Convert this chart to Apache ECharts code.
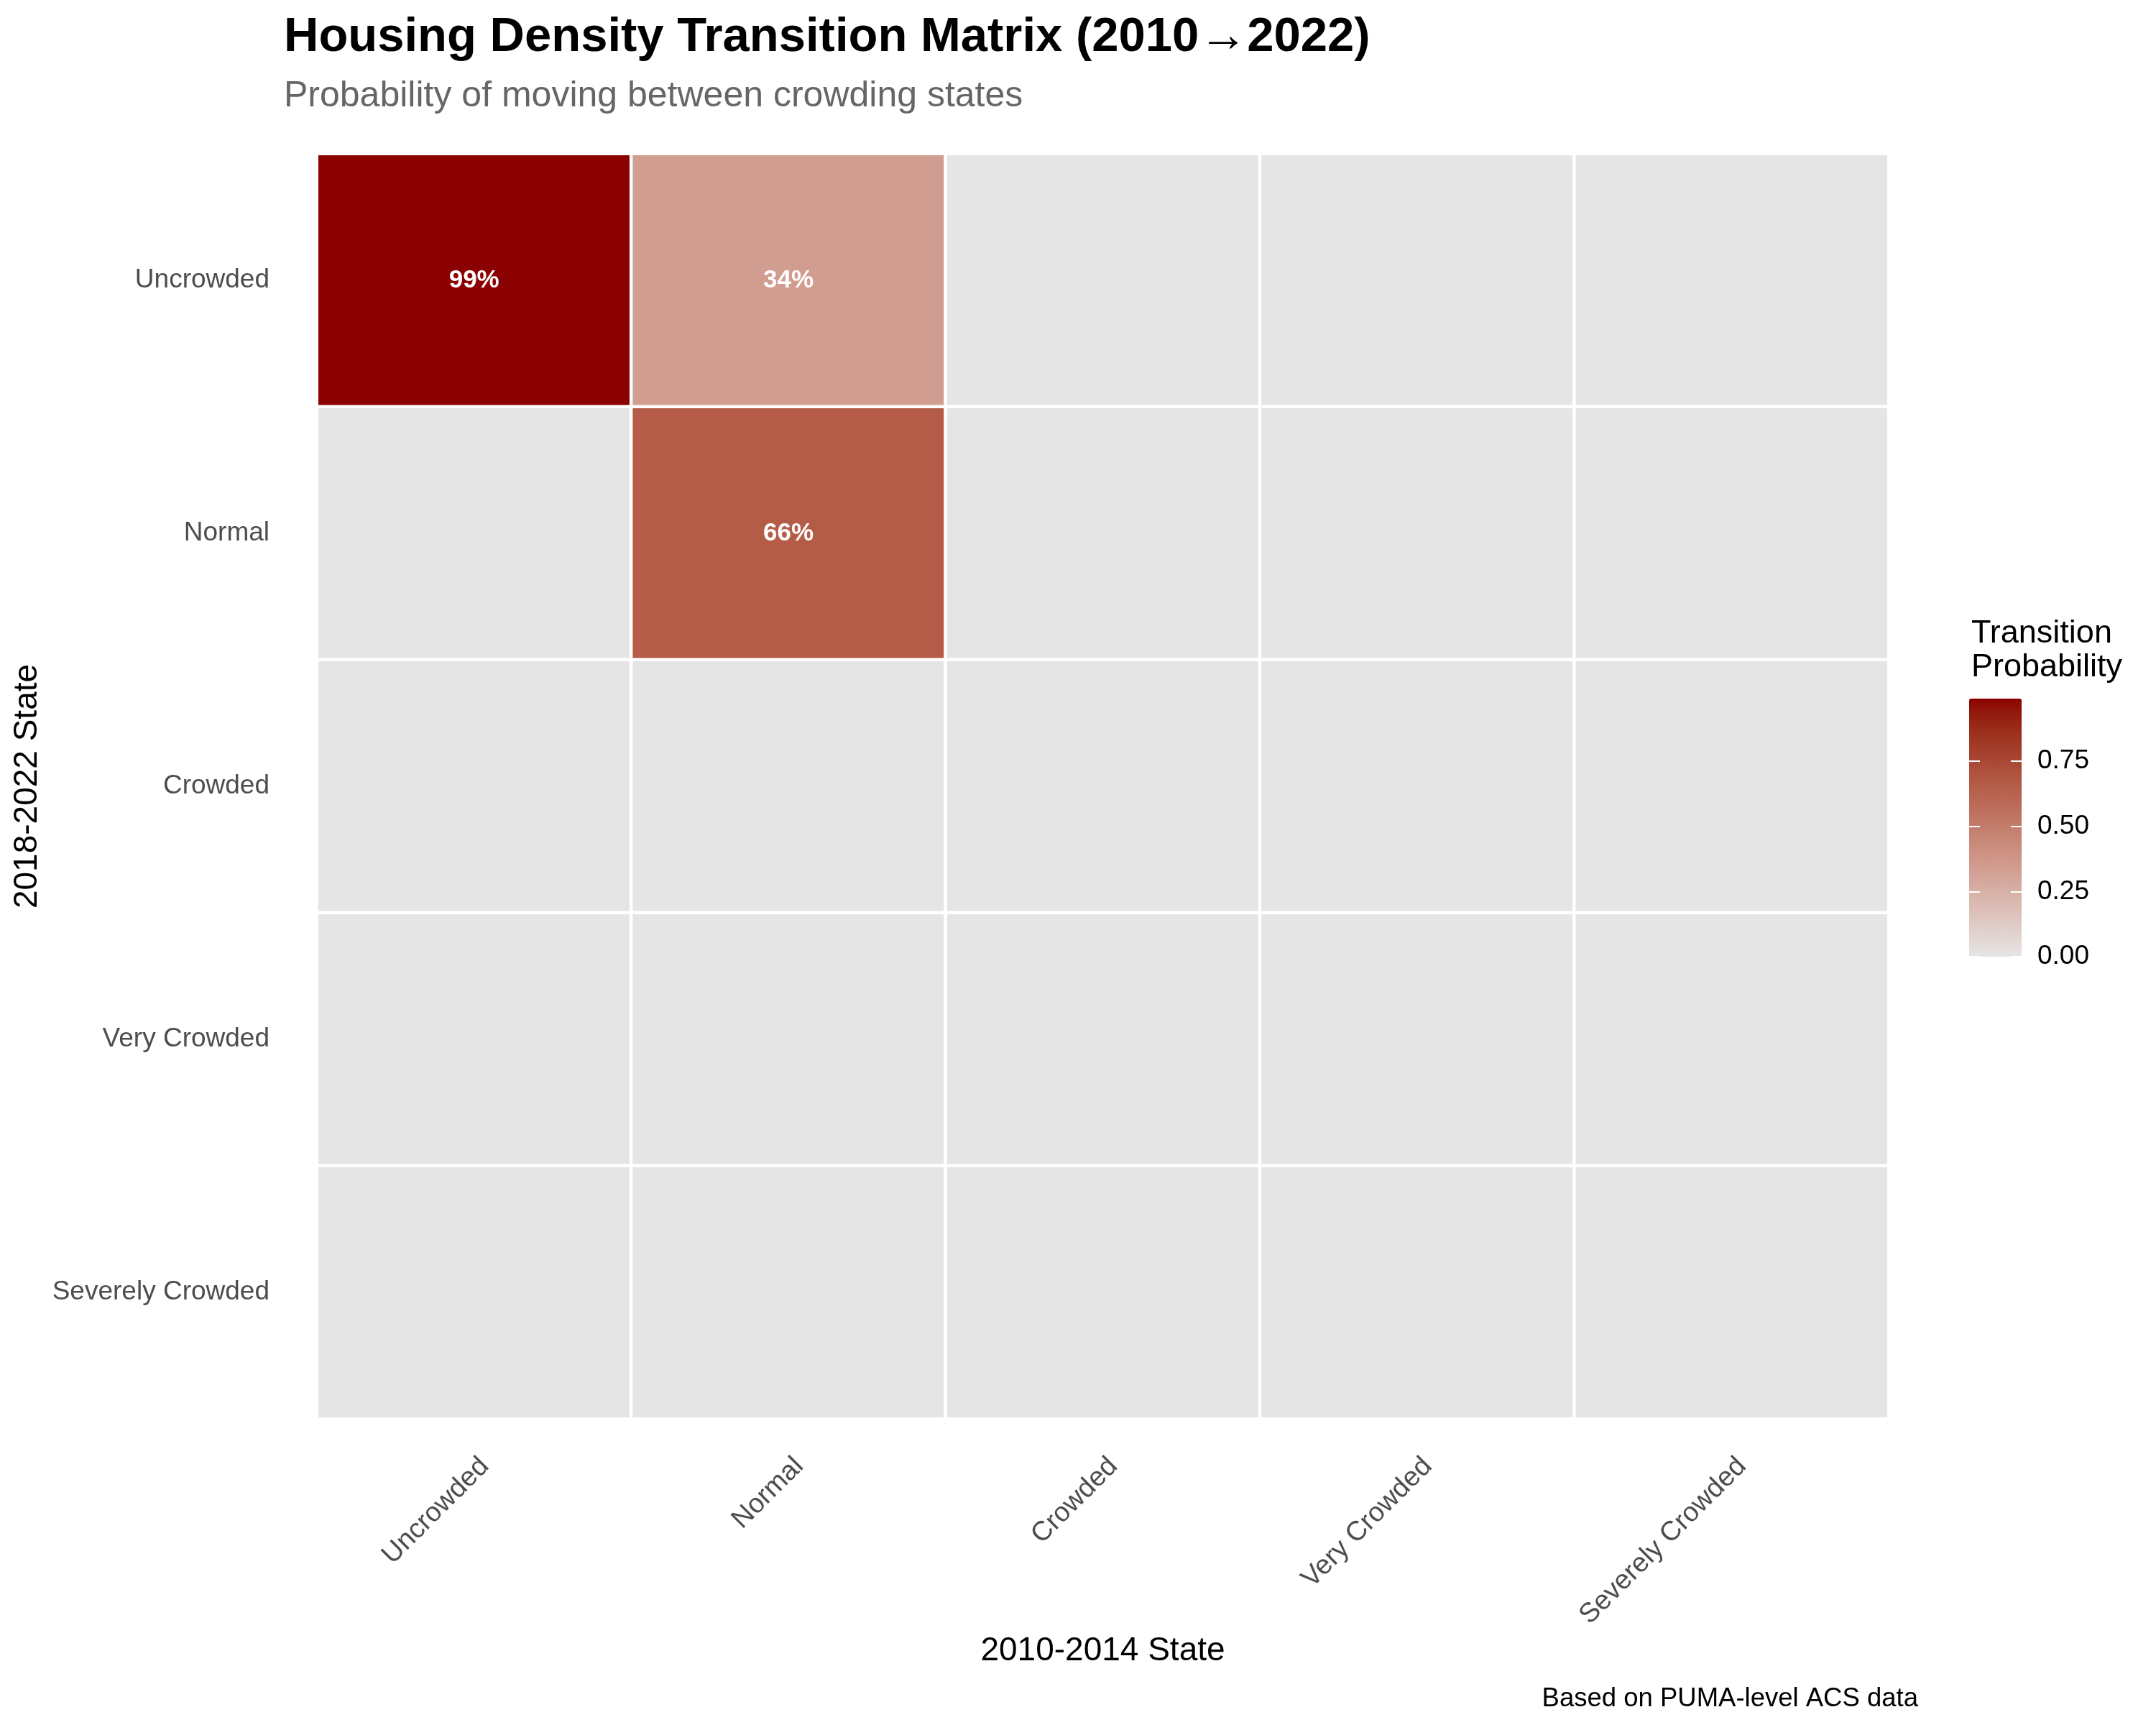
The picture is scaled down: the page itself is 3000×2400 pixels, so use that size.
<!DOCTYPE html>
<html>
<head>
<meta charset="utf-8">
<script src="https://cdn.jsdelivr.net/npm/echarts@6/dist/echarts.min.js"></script>
<style>
html,body{margin:0;padding:0;background:#fff;}
#chart{width:3000px;height:2400px;}
</style>
</head>
<body>
<div id="chart"></div>
<script>
// ---------- data ----------
const fromStates = ['Uncrowded', 'Normal', 'Crowded', 'Very Crowded', 'Severely Crowded']; // 2010-2014 (x)
const toStates = ['Uncrowded', 'Normal', 'Crowded', 'Very Crowded', 'Severely Crowded'];   // 2018-2022 (y)
// probability of moving from each 2010-2014 state to each 2018-2022 state
const fromUncrowded = [0.99, 0, 0, 0, 0];
const fromNormal = [0.34, 0.66, 0, 0, 0];
const fromCrowded = [0, 0, 0, 0, 0];
const fromVeryCrowded = [0, 0, 0, 0, 0];
const fromSeverelyCrowded = [0, 0, 0, 0, 0];
const legendTicks = [0, 0.25, 0.5, 0.75];

const rows = [fromUncrowded, fromNormal, fromCrowded, fromVeryCrowded, fromSeverelyCrowded];
const heatData = [];
rows.forEach((r, xi) => r.forEach((v, yi) => heatData.push([xi, yi, v])));
const allVals = heatData.map(d => d[2]);
const vMin = Math.min(...allVals), vMax = Math.max(...allVals);

// ---------- Lab gradient (like ggplot) ----------
function hex2rgb(h){h=h.replace('#','');return [0,2,4].map(i=>parseInt(h.substr(i,2),16));}
function lin(c){c/=255;return c<=0.04045?c/12.92:Math.pow((c+0.055)/1.055,2.4);}
function delin(c){c=c<=0.0031308?12.92*c:1.055*Math.pow(c,1/2.4)-0.055;return Math.max(0,Math.min(255,Math.round(c*255)));}
const WX=0.95047,WY=1,WZ=1.08883;
function f(t){return t>0.008856?Math.cbrt(t):7.787*t+16/116;}
function fi(t){return t>0.206893?t*t*t:(t-16/116)/7.787;}
function rgb2lab(rgb){const [r,g,b]=rgb.map(lin);
 const X=r*0.4124+g*0.3576+b*0.1805,Y=r*0.2126+g*0.7152+b*0.0722,Z=r*0.0193+g*0.1192+b*0.9505;
 const fx=f(X/WX),fy=f(Y/WY),fz=f(Z/WZ);return [116*fy-16,500*(fx-fy),200*(fy-fz)];}
function lab2hex(lab){const fy=(lab[0]+16)/116,fx=fy+lab[1]/500,fz=fy-lab[2]/200;
 const X=WX*fi(fx),Y=WY*fi(fy),Z=WZ*fi(fz);
 const r=3.2406*X-1.5372*Y-0.4986*Z,g=-0.9689*X+1.8758*Y+0.0415*Z,b=0.0557*X-0.2040*Y+1.0570*Z;
 return '#'+[r,g,b].map(delin).map(v=>v.toString(16).padStart(2,'0')).join('');}
const lowLab=rgb2lab(hex2rgb('#E5E5E5')), highLab=rgb2lab(hex2rgb('#8B0000'));
const gradient=[];
for(let i=0;i<=40;i++){const t=i/40;gradient.push(lab2hex(lowLab.map((v,k)=>v+(highLab[k]-v)*t)));}

const FONT='Liberation Sans';
const chart = echarts.init(document.getElementById('chart'), null, {renderer:'canvas'});
const option = {
  backgroundColor:'#fff',
  animation:false,
  title:[
    {text:'Housing Density Transition Matrix (2010\u21922022)', left:390, top:14,
     textStyle:{fontFamily:FONT,fontSize:67,fontWeight:'bold',color:'#000'}},
    {text:'Probability of moving between crowding states', left:390, top:104,
     textStyle:{fontFamily:FONT,fontSize:50,fontWeight:'normal',color:'#666666'}},
    {text:'Transition\nProbability', left:2738, top:853,
     textStyle:{fontFamily:FONT,fontSize:45,lineHeight:47,fontWeight:'normal',color:'#000'}},
    {text:'Based on PUMA-level ACS data', right:326, top:2340,
     textStyle:{fontFamily:FONT,fontSize:36.5,fontWeight:'normal',color:'#000'}}
  ],
  grid:[
    {left:441, top:214, width:2187, height:1760},
    {left:2740, top:972, width:73, height:359}
  ],
  xAxis:[
    {type:'category', gridIndex:0, data:fromStates,
     axisLine:{show:false}, axisTick:{show:false}, splitLine:{show:false},
     axisLabel:{rotate:45, margin:75, padding:[0,-21,0,0], fontFamily:FONT, fontSize:38, color:'#4D4D4D'},
     name:'2010-2014 State', nameLocation:'middle', nameGap:296,
     nameTextStyle:{fontFamily:FONT,fontSize:46,color:'#000'}},
    {type:'value', gridIndex:1, show:false, min:0, max:1}
  ],
  yAxis:[
    {type:'category', gridIndex:0, data:toStates, inverse:true,
     axisLine:{show:false}, axisTick:{show:false}, splitLine:{show:false},
     axisLabel:{margin:66, fontFamily:FONT, fontSize:37, color:'#4D4D4D'},
     name:'2018-2022 State', nameLocation:'middle', nameGap:368,
     nameTextStyle:{fontFamily:FONT,fontSize:46,color:'#000'}},
    {type:'value', gridIndex:1, position:'left', min:vMin, max:vMax, z:10,
     axisLine:{show:false}, splitLine:{show:false}, axisLabel:{show:false},
     axisTick:{show:true, inside:true, length:15, lineStyle:{color:'#fff',width:2}, customValues:legendTicks}},
    {type:'value', gridIndex:1, position:'right', min:vMin, max:vMax, z:10,
     axisLine:{show:false}, splitLine:{show:false},
     axisTick:{show:true, inside:true, length:15, lineStyle:{color:'#fff',width:2}, customValues:legendTicks},
     axisLabel:{show:true, margin:22, fontFamily:FONT, fontSize:37, color:'#000',
       customValues:legendTicks, formatter:v=>v.toFixed(2)}}
  ],
  visualMap:{
    type:'continuous', min:vMin, max:vMax, calculable:false, orient:'vertical',
    left:2740, top:972, itemWidth:73, itemHeight:359, padding:0, text:null,
    showLabel:false, seriesIndex:0,
    inRange:{color:gradient}
  },
  series:[{
    type:'heatmap', xAxisIndex:0, yAxisIndex:0, data:heatData,
    itemStyle:{borderColor:'#ffffff', borderWidth:4.5},
    label:{show:true, fontFamily:FONT, fontSize:35, fontWeight:'bold', color:'#fff',
      formatter:p=>p.value[2]>0?Math.round(p.value[2]*100)+'%':''},
    emphasis:{disabled:true}
  }]
};
chart.setOption(option);
</script>
</body>
</html>
